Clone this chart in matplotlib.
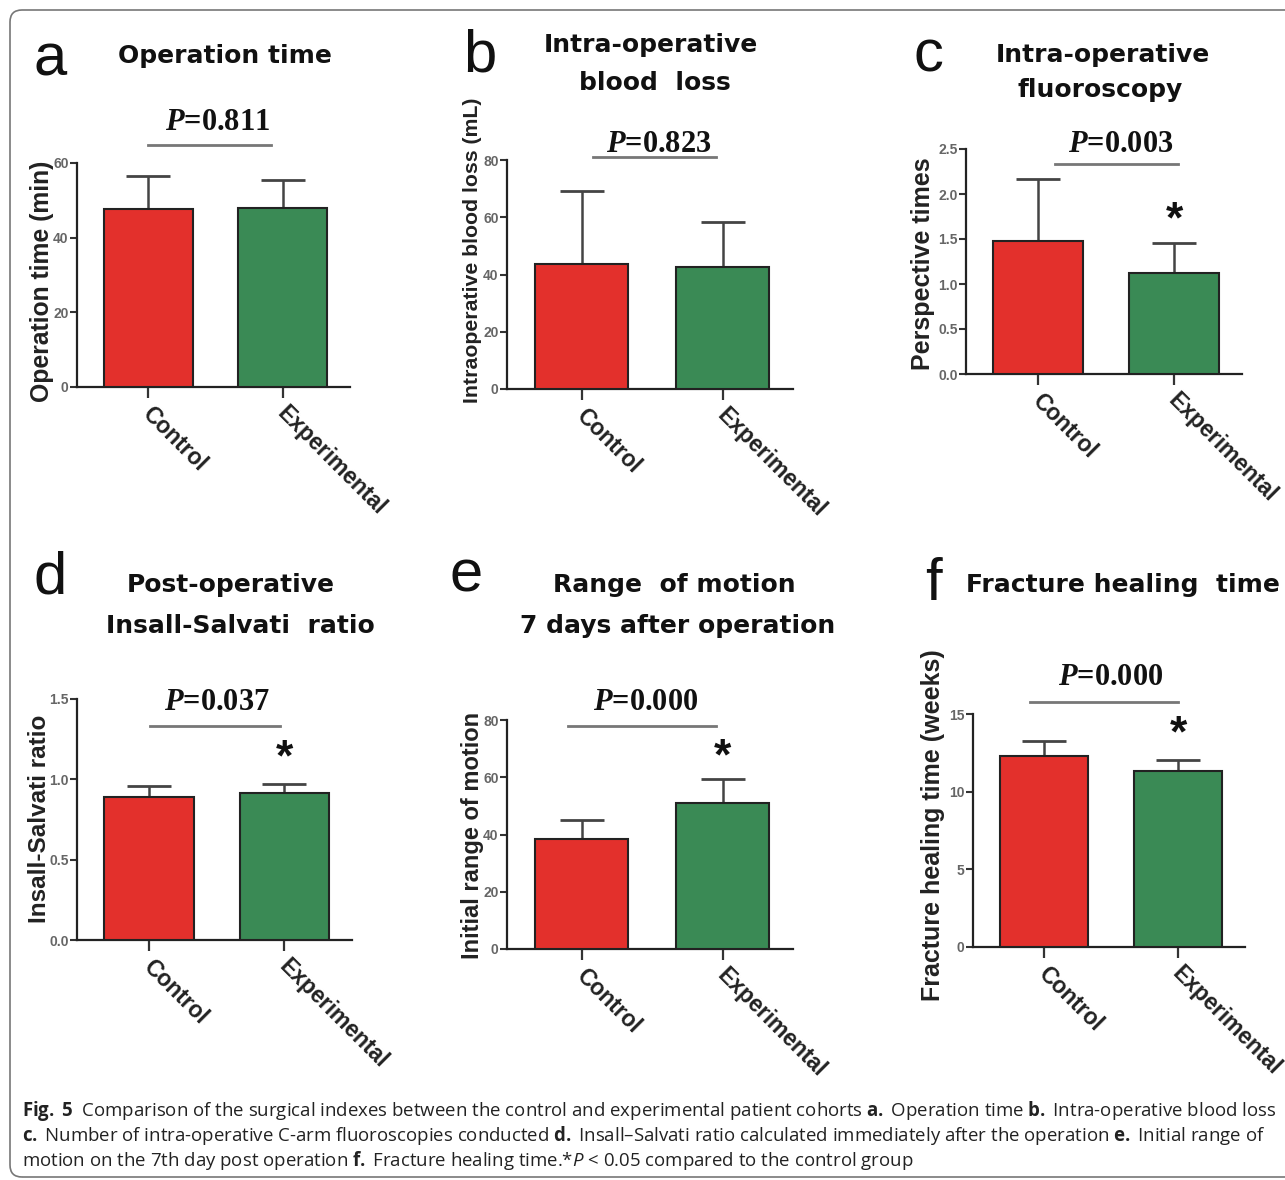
import numpy as np
import matplotlib
matplotlib.use('Agg')
import matplotlib.pyplot as plt
import matplotlib.transforms as mtrans
from matplotlib.patches import FancyBboxPatch

W, H = 1285, 1180

plt.rcParams['mathtext.fontset'] = 'custom'
plt.rcParams['mathtext.it'] = 'Liberation Serif:italic:bold'
plt.rcParams['mathtext.bf'] = 'Open Sans:bold'
plt.rcParams['mathtext.sf'] = 'Open Sans:italic'

categories = ['Control', 'Experimental']
bar_colors = ['#e3302c', '#3a8a55']

# means and SD (upper error only)
op_time_mean = [47.7, 48.0]
op_time_sd = [8.8, 7.4]
blood_mean = [43.7, 42.6]
blood_sd = [25.5, 15.7]
fluoro_mean = [1.48, 1.12]
fluoro_sd = [0.69, 0.34]
insall_mean = [0.89, 0.915]
insall_sd = [0.07, 0.055]
rom_mean = [38.4, 51.0]
rom_sd = [6.7, 8.4]
heal_mean = [12.3, 11.33]
heal_sd = [0.96, 0.71]

yticks_a = [0, 20, 40, 60]
yticks_b = [0, 20, 40, 60, 80]
yticks_c = [0.0, 0.5, 1.0, 1.5, 2.0, 2.5]
yticks_d = [0.0, 0.5, 1.0, 1.5]
yticks_e = [0, 20, 40, 60, 80]
yticks_f = [0, 5, 10, 15]

p_texts = ['0.811', '0.823', '0.003', '0.037', '0.000', '0.000']
star_y = [None, None, 1.79, 1.18, 69.5, 14.2]

panels = [
    dict(letter='a', mean=op_time_mean, sd=op_time_sd, yt=yticks_a, fmt='{:.0f}',
         ylabel='Operation time (min)', titles=['Operation time'],
         rect=(77, 163, 350, 387), ylab=(42, 281, 17.8), tpos=[(225, 63)],
         lpos=(33, 75), ppos=(218, 130), pline=(148, 271, 145)),
    dict(letter='b', mean=blood_mean, sd=blood_sd, yt=yticks_b, fmt='{:.0f}',
         ylabel='Intraoperative blood loss (mL)', titles=['Intra-operative', 'blood  loss'],
         rect=(507, 160, 793, 389), ylab=(472, 250, 15.3), tpos=[(651, 52), (655, 90)],
         lpos=(463, 72), ppos=(659, 152), pline=(593, 716, 157)),
    dict(letter='c', mean=fluoro_mean, sd=fluoro_sd, yt=yticks_c, fmt='{:.1f}',
         ylabel='Perspective times', titles=['Intra-operative', 'fluoroscopy'],
         rect=(966, 149, 1242, 374), ylab=(923, 264, 18), tpos=[(1103, 62), (1100, 97)],
         lpos=(913, 72), ppos=(1121, 152), pline=(1055, 1178, 164)),
    dict(letter='d', mean=insall_mean, sd=insall_sd, yt=yticks_d, fmt='{:.1f}',
         ylabel='Insall-Salvati ratio', titles=['Post-operative', 'Insall-Salvati  ratio'],
         rect=(77, 699, 352, 940), ylab=(40, 819, 17.5), tpos=[(231, 592), (240, 633)],
         lpos=(33, 593), ppos=(217, 710), pline=(150, 280, 726)),
    dict(letter='e', mean=rom_mean, sd=rom_sd, yt=yticks_e, fmt='{:.0f}',
         ylabel='Initial range of motion', titles=['Range  of motion', '7 days after operation'],
         rect=(507, 720, 793, 949), ylab=(472, 835, 17), tpos=[(674, 592), (678, 633)],
         lpos=(450, 592), ppos=(646, 710), pline=(568, 716, 726)),
    dict(letter='f', mean=heal_mean, sd=heal_sd, yt=yticks_f, fmt='{:.0f}',
         ylabel='Fracture healing time (weeks)', titles=['Fracture healing  time'],
         rect=(973, 714, 1245, 947), ylab=(933, 825, 18), tpos=[(1123, 592)],
         lpos=(925, 600), ppos=(1111, 685), pline=(1030, 1178, 702)),
]


def fx(x):
    return x / W


def fy(y):
    return 1 - y / H


fig = plt.figure(figsize=(W / 100, H / 100), dpi=100)
fig.patch.set_facecolor('white')

x = np.arange(len(categories))
label_shift = mtrans.ScaledTranslation(0.06, -0.15, fig.dpi_scale_trans)
star_shift = mtrans.ScaledTranslation(0, -0.08, fig.dpi_scale_trans)

for i, p in enumerate(panels):
    l, t, r, b = p['rect']
    ax = fig.add_axes([fx(l), fy(b), (r - l) / W, (b - t) / H])
    ax.bar(x, p['mean'], width=0.66, color=bar_colors, edgecolor='#222222',
           linewidth=1.5, zorder=3)
    ax.errorbar(x, p['mean'], yerr=[np.zeros(2), p['sd']], fmt='none',
                ecolor='#444444', elinewidth=1.8, capsize=16, capthick=2, zorder=2)
    ax.set_xlim(-0.53, 1.5)
    ax.set_ylim(p['yt'][0], p['yt'][-1])
    ax.set_yticks(p['yt'])
    ax.set_yticklabels([p['fmt'].format(v) for v in p['yt']])
    ax.set_xticks(x)
    ax.set_xticklabels([])
    # rotated category labels, hanging from each tick
    tr = mtrans.blended_transform_factory(ax.transData, ax.transAxes) + label_shift
    for xi, name in zip(x, categories):
        ax.text(xi, 0, name, transform=tr, rotation=-45, ha='left', va='top',
                rotation_mode='anchor', fontsize=16.5, fontweight='bold',
                family='Liberation Sans', color='#222222', clip_on=False)
    for s in ['top', 'right']:
        ax.spines[s].set_visible(False)
    for s in ['left', 'bottom']:
        ax.spines[s].set_linewidth(1.6)
        ax.spines[s].set_color('#222222')
    ax.tick_params(axis='y', direction='out', length=5, width=1.5, color='#333333',
                   labelsize=10, labelcolor='#666666', pad=1)
    ax.tick_params(axis='x', direction='out', length=8, width=1.6, color='#333333')
    for lab in ax.get_yticklabels():
        lab.set_fontweight('bold')
        lab.set_family('Liberation Sans')
    ax.set_facecolor('none')

    # significance star
    if star_y[i] is not None:
        ax.text(1, star_y[i], '*', ha='center', va='center', fontsize=32,
                fontweight='bold', family='Liberation Sans', color='#111111',
                clip_on=False, transform=ax.transData + star_shift)

    # y label
    yx, yy, ys = p['ylab']
    fig.text(fx(yx), fy(yy), p['ylabel'], rotation=90, ha='center', va='center',
             fontsize=ys, fontweight='bold', family='Liberation Sans', color='#222222')

    # titles
    for (tx, ty), txt in zip(p['tpos'], p['titles']):
        fig.text(fx(tx), fy(ty), txt, ha='center', va='baseline', fontsize=18,
                 fontweight='bold', family='DejaVu Sans', color='#111111')

    # panel letter
    lx, ly = p['lpos']
    fig.text(fx(lx), fy(ly), p['letter'], ha='left', va='baseline', fontsize=43,
             family='Liberation Sans', color='#111111')

    # P value and bracket line
    px_, py_ = p['ppos']
    fig.text(fx(px_), fy(py_), r'$\mathit{P}$=' + p_texts[i], ha='center', va='baseline',
             fontsize=22, fontweight='bold', family='Liberation Serif', color='#111111')
    x0, x1, yl = p['pline']
    fig.add_artist(plt.Line2D([fx(x0), fx(x1)], [fy(yl), fy(yl)], color='#777777',
                              linewidth=2, transform=fig.transFigure))

# caption
caption = [
    r'$\bf{Fig.\ 5}$  Comparison of the surgical indexes between the control and experimental '
    r'patient cohorts $\bf{a.}$ Operation time $\bf{b.}$ Intra-operative blood loss',
    r'$\bf{c.}$ Number of intra-operative C-arm fluoroscopies conducted $\bf{d.}$ Insall–Salvati '
    r'ratio calculated immediately after the operation $\bf{e.}$ Initial range of',
    r'motion on the 7th day post operation $\bf{f.}$ Fracture healing time.*$\mathsf{P}$ < 0.05 '
    r'compared to the control group',
]
for k, line in enumerate(caption):
    fig.text(fx(22), fy(1116 + 25 * k), line, ha='left', va='baseline', fontsize=13.4,
             family='Open Sans', color='#222222')

# rounded frame
frame = FancyBboxPatch((10 / 100, (H - 1177) / 100), (W + 20 - 10) / 100, (1177 - 10) / 100,
                       boxstyle='round,pad=0,rounding_size=0.12', transform=fig.dpi_scale_trans,
                       facecolor='none', edgecolor='#777777', linewidth=1.2)
fig.add_artist(frame)

fig.savefig('out.png', dpi=100)
